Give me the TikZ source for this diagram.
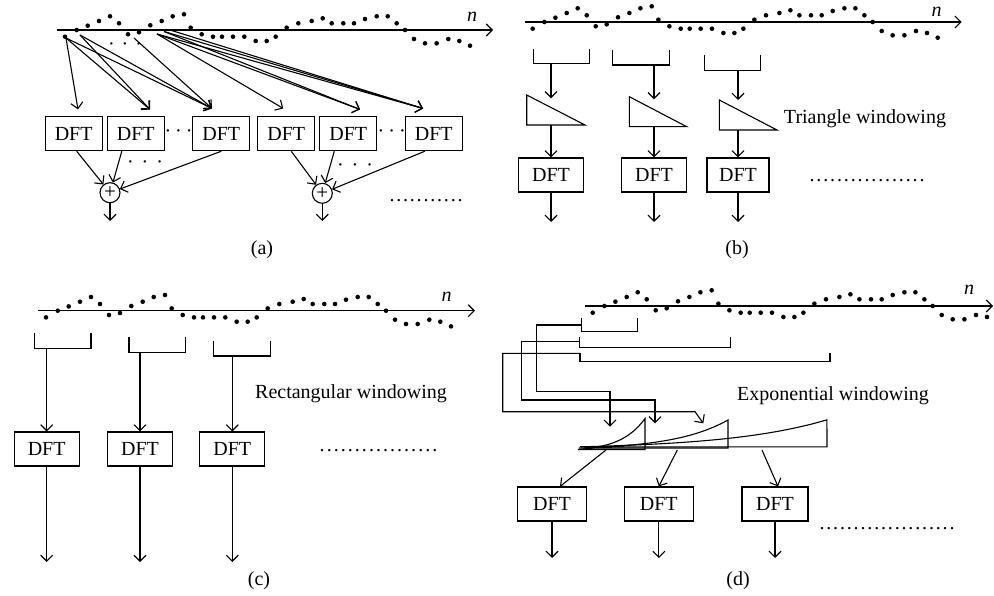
\documentclass[tikz,border=0pt]{standalone}
\usepackage{fontspec}
\setmainfont{Liberation Serif}
\usetikzlibrary{arrows.meta,calc}
\newcommand\leaderdots[1]{\hbox to #1{\xleaders\hbox to 6.7pt{\hss.\hss}\hfill}}
\newcommand\sigdots{7.7/6.7,19.4/0,30.4/-4.3,41.7/-9,52.7/-13.7,61.7/-6.7,70.7/4.3,81.7/2.3,93/-4.7,104.4/-9,115.4/-13.7,126.7/-15.7,133.4/-2.3,144.4/4.3,155.7/6.7,164.7/6.7,175.7/6.7,187/6.7,198.4/11,209.4/11,218.4/6.7,229.4/-2.3,241/-6.7,254.4/-9,265.4/-11.7,274.4/-6.7,286/-6.7,296.7/-6.7,307.7/-11,319.4/-13.7,330.4/-13.7,339.4/-6.7,347.7/0,356.7/9,367.7/13.3,379.4/13.3,391/9,402/11}
\newcommand\drawsig[2]{\foreach \dx/\dy in \sigdots {\fill ({#1+\dx},{#2+\dy}) circle (2.3pt);}}
\newcommand\drawlastdot[2]{\fill ({#1+412.7},{#2+15.7}) circle (2.3pt);}
\begin{document}
\begin{tikzpicture}[x=1pt,y=-1pt,line width=1.1pt,
  every node/.style={font=\fontsize{20}{24}\selectfont},
  arr/.style={-{Straight Barb[length=6pt,width=12pt]}},
  dft/.style={draw,minimum height=34pt,inner sep=0pt},
  sumnode/.style={draw,circle,inner sep=0pt,minimum size=20pt,font=\fontsize{21}{21}\selectfont},
  nlab/.style={font=\fontsize{20}{24}\selectfont\itshape},
  ldr/.style={anchor=base west,inner sep=0pt},
]
\useasboundingbox (0,0) rectangle (994,596);

%%%%%%%%%%%%%%%% (a)
\coordinate (ax0) at (57.3,30); \coordinate (ax1) at (493,30);
\draw[arr] (ax0) -- (ax1);
\drawsig{57.3}{30}\drawlastdot{57.3}{30}
\node[nlab] (na) at (472,17) {n};

\node[dft,minimum width=57pt] (a1) at (73.7,133.7) {DFT};
\node[dft,minimum width=57pt] (a2) at (135.8,133.7) {DFT};
\node[dft,minimum width=57pt] (a3) at (221.3,133.7) {DFT};
\node[dft,minimum width=57pt] (a4) at (286.3,133.7) {DFT};
\node[dft,minimum width=57pt] (a5) at (348.3,133.7) {DFT};
\node[dft,minimum width=57pt] (a6) at (433.8,133.7) {DFT};
\node[inner sep=0pt] (cd1) at (178.5,133.7) {·\kern4pt·\kern4pt·};
\node[inner sep=0pt] (cd2) at (391.7,133.7) {·\kern4pt·\kern4pt·};
\node[inner sep=0pt] (cd3) at (125,47) {·\kern7pt·\kern7pt·};
\node[inner sep=0pt] (cd4) at (145,165) {·\kern8pt·\kern8pt·};
\node[inner sep=0pt] (cd5) at (355,167.7) {·\kern8pt·\kern8pt·};

\coordinate (A1) at (66,38); \coordinate (A2) at (80,35); \coordinate (A3) at (134,38);
\coordinate (B1) at (157,34); \coordinate (B2) at (164,31.5); \coordinate (B3) at (170,30);
\coordinate (T1) at ([xshift=4.3pt,yshift=6.7pt]a1.north);
\coordinate (T2) at ([xshift=14.2pt,yshift=6.7pt]a2.north);
\coordinate (T3) at ([xshift=-9.3pt,yshift=7.7pt]a3.north);
\coordinate (T4) at ([xshift=-3pt,yshift=7.7pt]a4.north);
\coordinate (T5) at ([xshift=11.7pt,yshift=6.7pt]a5.north);
\coordinate (T6) at ([xshift=-10.8pt,yshift=7.7pt]a6.north);
\draw[arr] (A1) -- (T1);
\draw[arr] (A1) -- (T2); \draw[arr] (A2) -- (T2);
\draw[arr] (A1) -- (T3); \draw[arr] (A2) -- (T3); \draw[arr] (A3) -- (T3);
\draw[arr] (B1) -- (T4);
\draw[arr] (B1) -- (T5); \draw[arr] (B2) -- (T5);
\draw[arr] (B1) -- (T6); \draw[arr] (B2) -- (T6); \draw[arr] (B3) -- (T6);

\node[sumnode] (s1) at (110,192.7) {+};
\node[sumnode] (s2) at (322.3,193.3) {+};
\draw[arr] ([xshift=3pt]a1.south) -- (s1);
\draw[arr] ([xshift=-14pt]a2.south) -- (s1);
\draw[arr] (a3.south) -- (s1);
\draw[arr] ([xshift=5pt]a4.south) -- (s2);
\draw[arr] ([xshift=-14pt]a5.south) -- (s2);
\draw[arr] ([xshift=-9pt]a6.south) -- (s2);
\coordinate (o1) at (110,221); \coordinate (o2) at (322.3,221);
\draw[arr] (s1) -- (o1); \draw[arr] (s2) -- (o2);
\node[ldr] (ldA) at (388,202) {\leaderdots{75pt}};
\node (capa) at (262,250) {(a)};

%%%%%%%%%%%%%%%% (b)
\coordinate (bx0) at (525,22); \coordinate (bx1) at (961.7,22);
\draw[arr] (bx0) -- (bx1);
\drawsig{525}{22}\drawlastdot{525}{22}
\node[nlab] (nb) at (936.7,11.7) {n};
\draw (533.3,49.3) |- (589.3,63.3) -- (589.3,49.3);
\draw (612.7,50) |- (669.3,65) -- (669.3,50);
\draw (704.3,55) |- (760.7,70.7) -- (760.7,55);
\coordinate (bb1) at (551,63.3); \coordinate (bt1) at (551,98.3);
\coordinate (bb2) at (654,65); \coordinate (bt2) at (654,99.3);
\coordinate (bb3) at (738,70.7); \coordinate (bt3) at (738,100);
\draw[arr] (bb1) -- (bt1); \draw[arr] (bb2) -- (bt2); \draw[arr] (bb3) -- (bt3);
\draw (526.7,95) -- (585,125) -- (526.7,125) -- cycle;
\draw (629.3,96.7) -- (686.7,126.7) -- (629.3,126.7) -- cycle;
\draw (719.3,100) -- (777,130) -- (719.3,130) -- cycle;
\coordinate (tb1) at (551,125); \coordinate (tb2) at (654,126.7); \coordinate (tb3) at (738,130);
\node[dft,minimum width=65pt] (b1) at (551,175) {DFT};
\node[dft,minimum width=65pt] (b2) at (654,175) {DFT};
\node[dft,minimum width=62pt] (b3) at (738,175) {DFT};
\draw[arr] (tb1) -- (b1); \draw[arr] (tb2) -- (b2); \draw[arr] (tb3) -- (b3);
\coordinate (ob1) at (551,222); \coordinate (ob2) at (654,222); \coordinate (ob3) at (738,222);
\draw[arr] (b1) -- (ob1); \draw[arr] (b2) -- (ob2); \draw[arr] (b3) -- (ob3);
\node (tw) at (865,119) {Triangle windowing};
\node[ldr] (ldB) at (808,182) {\leaderdots{117pt}};
\node (capb) at (737,250) {(b)};

%%%%%%%%%%%%%%%% (c)
\coordinate (cx0) at (38.3,310.7); \coordinate (cx1) at (475,310.7);
\draw[arr] (cx0) -- (cx1);
\drawsig{38.3}{310.7}\drawlastdot{38.3}{310.7}
\node[nlab] (nc) at (446.7,296.7) {n};
\draw (34.3,332.7) |- (91,348.3) -- (91,332.7);
\draw (129,337.3) |- (185.7,352.7) -- (185.7,337.3);
\draw (213.3,340.7) |- (270.3,356) -- (270.3,340.7);
\coordinate (cb1) at (46.7,348.3); \coordinate (cb2) at (140,352.7); \coordinate (cb3) at (232.3,356);
\node[dft,minimum width=65pt] (c1) at (46.7,449) {DFT};
\node[dft,minimum width=65pt] (c2) at (140,449) {DFT};
\node[dft,minimum width=65pt] (c3) at (232.3,449) {DFT};
\draw[arr] (cb1) -- (c1); \draw[arr] (cb2) -- (c2); \draw[arr] (cb3) -- (c3);
\coordinate (oc1) at (46.7,562); \coordinate (oc2) at (140,562); \coordinate (oc3) at (232.3,562);
\draw[arr] (c1) -- (oc1); \draw[arr] (c2) -- (oc2); \draw[arr] (c3) -- (oc3);
\node (rw) at (351,394) {Rectangular windowing};
\node[ldr] (ldC) at (318,451) {\leaderdots{120pt}};
\node (capc) at (259,581) {(c)};

%%%%%%%%%%%%%%%% (d)
\coordinate (dx0) at (585,306); \coordinate (dx1) at (993,306);
\draw[arr] (dx0) -- (dx1);
\drawsig{585}{306}
\node[nlab] (nd) at (969,290) {n};
\draw (581.7,317.7) -- (581.7,331.7) -- (637.7,331.7) -- (637.7,317.7);
\draw (579.3,337.3) -- (579.3,347.7) -- (730.7,347.7) -- (730.7,337.3);
\draw (580,353.3) -- (580,361.7) -- (830,361.7) -- (830,353.3);
\coordinate (dl1) at (581.7,325); \coordinate (dt1) at (610,426.7);
\coordinate (dl2) at (579.3,341.7); \coordinate (dt2) at (655,423.3);
\coordinate (dl3) at (580,353.3); \coordinate (dt3) at (703.3,423.3);
\draw[arr] (dl1) -- (536.7,325) -- (536.7,391.7) -- (610,391.7) -- (dt1);
\draw[arr] (dl2) -- (521.7,341.7) -- (521.7,400) -- (655,400) -- (dt2);
\draw[arr] (dl3) -- (502.7,353.3) -- (502.7,411.7) -- (695,411.7) -- (dt3);
% exponential windows
\draw plot[domain=0:1,samples=40,variable=\t] ({578+67*\t},{449.5-31*(exp(2.8*\t)-1)/(exp(2.8)-1)}) -- (645,449.5) -- cycle;
\draw plot[domain=0:1,samples=40,variable=\t] ({579+149*\t},{448-28*(exp(2.8*\t)-1)/(exp(2.8)-1)}) -- (728,448) -- cycle;
\draw plot[domain=0:1,samples=50,variable=\t] ({580+247*\t},{446.8-27*(exp(2.5*\t)-1)/(exp(2.5)-1)}) -- (827,446.8) -- cycle;
\coordinate (we1) at (606,450); \coordinate (we2) at (677.3,450); \coordinate (we3) at (762,450);
\node[dft,minimum width=69pt] (d1) at (552,504) {DFT};
\node[dft,minimum width=69pt] (d2) at (658.8,504) {DFT};
\node[dft,minimum width=66pt] (d3) at (775,504) {DFT};
\draw[arr] (we1) -- ([xshift=8pt]d1.north);
\draw[arr] (we2) -- (d2.north);
\draw[arr] (we3) -- ([xshift=3pt]d3.north);
\coordinate (od1) at (552,558); \coordinate (od2) at (658.8,558); \coordinate (od3) at (775,558);
\draw[arr] (d1) -- (od1); \draw[arr] (d2) -- (od2); \draw[arr] (d3) -- (od3);
\node (ew) at (833,396) {Exponential windowing};
\node[ldr] (ldD) at (818,529) {\leaderdots{137pt}};
\node (capd) at (738,581) {(d)};
\end{tikzpicture}
\end{document}
